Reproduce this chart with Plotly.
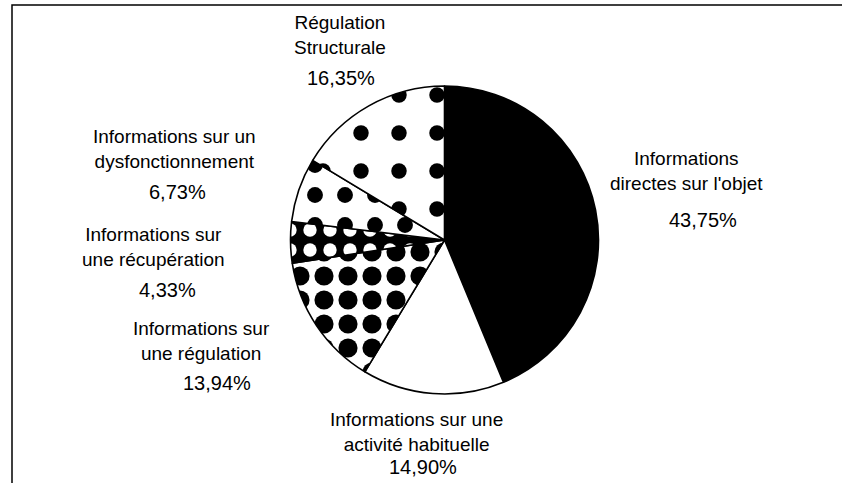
import plotly.graph_objects as go

# ---- data ----
categories = [
    "Informations directes sur l'objet",
    "Informations sur une activité habituelle",
    "Informations sur une régulation",
    "Informations sur une récupération",
    "Informations sur un dysfonctionnement",
    "Régulation Structurale",
]
label_lines = [
    "Informations<br>directes sur l'objet",
    "Informations sur une<br>activité habituelle",
    "Informations sur<br>une régulation",
    "Informations sur<br>une récupération",
    "Informations sur un<br>dysfonctionnement",
    "Régulation<br>Structurale",
]
values = [43.75, 14.90, 13.94, 4.33, 6.73, 16.35]

# ---- styles ----
fill_colors = ["black", "white", "white", "black", "white", "white"]
pat_shapes = ["", "", ".", ".", ".", "."]
pat_fg = ["black", "black", "black", "white", "black", "black"]
pat_bg = ["black", "white", "white", "black", "white", "white"]
pat_size = [10, 10, 24, 20, 30, 38]
pat_solid = [0.3, 0.3, 0.5, 0.35, 0.22, 0.13]

W, H = 842, 483
cx, cy, r = 444.5, 240, 154

fig = go.Figure(go.Pie(
    labels=categories,
    values=values,
    sort=False,
    direction="clockwise",
    rotation=0,
    textinfo="none",
    hoverinfo="skip",
    showlegend=False,
    marker=dict(
        colors=fill_colors,
        line=dict(color="black", width=1.6),
        pattern=dict(shape=pat_shapes, fgcolor=pat_fg, bgcolor=pat_bg,
                     size=pat_size, solidity=pat_solid, fillmode="replace"),
    ),
    domain=dict(x=[(cx - r) / W, (cx + r) / W],
                y=[(H - cy - r) / H, (H - cy + r) / H]),
))

# label positions (pixel centres): name block, percentage
name_pos = [(686, 171), (416, 432), (201, 341), (153, 247), (174, 149), (340, 35)]
pct_pos = [(703, 220), (423, 467), (217, 383), (167, 290), (177, 192), (341, 78)]

font_family = "Liberation Sans, Arial, sans-serif"
annotations = []
for i, v in enumerate(values):
    nx, ny = name_pos[i]
    px, py = pct_pos[i]
    annotations.append(dict(
        x=nx / W, y=1 - ny / H, xref="paper", yref="paper",
        text=label_lines[i], showarrow=False, align="center",
        xanchor="center", yanchor="middle",
        font=dict(family=font_family, size=19, color="black"),
    ))
    annotations.append(dict(
        x=px / W, y=1 - py / H, xref="paper", yref="paper",
        text=f"{v:.2f}".replace(".", ",") + "%", showarrow=False,
        xanchor="center", yanchor="middle",
        font=dict(family=font_family, size=20, color="black"),
    ))

fig.update_layout(
    width=W, height=H,
    margin=dict(l=0, r=0, t=0, b=0),
    paper_bgcolor="white",
    plot_bgcolor="white",
    annotations=annotations,
    shapes=[dict(type="path", xref="paper", yref="paper",
                 path=f"M {12/W},0 L {12/W},{1-5/H} L 1,{1-5/H}",
                 line=dict(color="black", width=1.5))],
)

fig.write_html("out.html",
               config={"displayModeBar": False},
               post_script="document.body.style.margin='0';document.body.style.overflow='hidden';")
